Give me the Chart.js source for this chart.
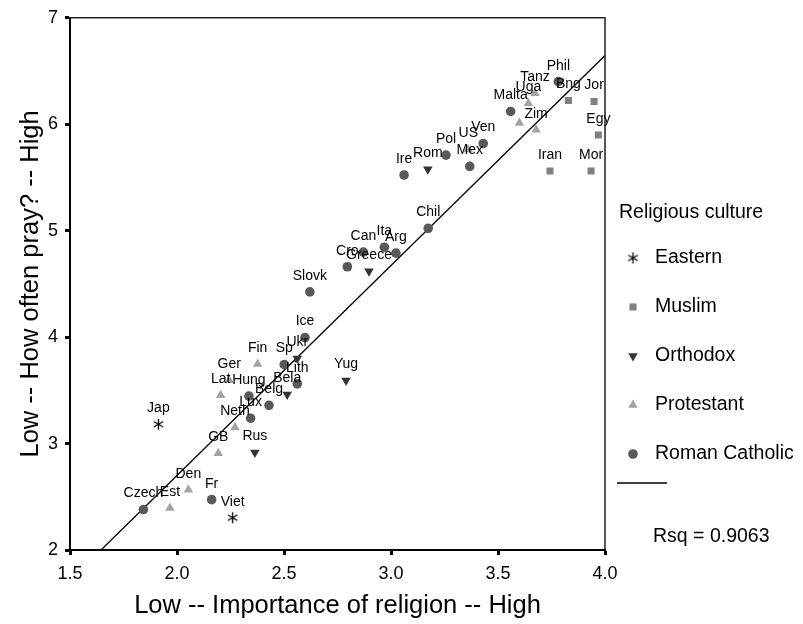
<!DOCTYPE html>
<html>
<head>
<meta charset="utf-8">
<style>
  html, body { margin: 0; padding: 0; background: #fff; }
</style>
<script src="https://cdn.jsdelivr.net/npm/chart.js@4.4.1/dist/chart.umd.min.js"></script>
</head>
<body>
<canvas id="chart" width="803" height="624"></canvas>
<script>
const FONT = "'Liberation Sans', Arial, Helvetica, sans-serif";

// Eastern
const easternNames = ["Jap", "Viet"];
const easternX = [1.913, 2.26];
const easternY = [3.182, 2.303];

// Muslim
const muslimNames = ["Bng", "Jor", "Egy", "Iran", "Mor"];
const muslimX = [3.829, 3.949, 3.969, 3.743, 3.935];
const muslimY = [6.223, 6.214, 5.899, 5.561, 5.561];

// Orthodox
const orthodoxNames = ["Rom", "Greece", "Ukr", "Bela", "Yug", "Rus"];
const orthodoxX = [3.172, 2.897, 2.562, 2.515, 2.79, 2.364];
const orthodoxY = [5.576, 4.618, 3.798, 3.462, 3.592, 2.917];

// Protestant
const protestantNames = ["Tanz", "Uga", "", "Zim", "US", "Fin", "Ger", "Lat", "Neth", "GB", "Den", "Est"];
const protestantX = [3.673, 3.642, 3.6, 3.678, 3.361, 2.377, 2.244, 2.204, 2.271, 2.193, 2.053, 1.967];
const protestantY = [6.291, 6.198, 6.011, 5.949, 5.762, 3.747, 3.595, 3.453, 3.15, 2.908, 2.566, 2.395];

// Roman Catholic
const catholicNames = ["Phil", "Malta", "Ven", "Mex", "Pol", "Ire", "Chil", "Arg", "Ita", "Can",
  "Cro", "Slovk", "Ice", "Sp", "Lith", "Belg", "Hung", "Lux", "Fr", "Czech"];
const catholicX = [3.782, 3.559, 3.431, 3.368, 3.257, 3.061, 3.174, 3.023, 2.969, 2.871,
  2.796, 2.621, 2.598, 2.501, 2.562, 2.43, 2.336, 2.344, 2.162, 1.843];
const catholicY = [6.4, 6.12, 5.818, 5.604, 5.71, 5.523, 5.022, 4.789, 4.845, 4.799,
  4.661, 4.425, 3.996, 3.742, 3.561, 3.359, 3.446, 3.238, 2.473, 2.38];

// fit line end points
const fitX = [1.645, 4.0];
const fitY = [2.0, 6.646];
const rsqText = "Rsq = 0.9063";

const toPoints = (xs, ys) => xs.map((x, i) => ({ x: x, y: ys[i] }));

// asterisk marker for the Eastern group
const makeStar = () => {
  const c = document.createElement("canvas");
  c.width = 13;
  c.height = 13;
  const g = c.getContext("2d");
  g.strokeStyle = "#000";
  g.lineWidth = 1.3;
  g.beginPath();
  for (let a = 90; a < 270; a += 60) {
    const r = (a * Math.PI) / 180;
    g.moveTo(6.5 + Math.cos(r) * 5.5, 6.5 - Math.sin(r) * 5.5);
    g.lineTo(6.5 - Math.cos(r) * 5.5, 6.5 + Math.sin(r) * 5.5);
  }
  g.stroke();
  return c;
};
const star = makeStar();

const datasets = [
  { label: "Eastern", names: easternNames, data: toPoints(easternX, easternY),
    pointStyle: star, pointRadius: 6, backgroundColor: "#000", borderColor: "#000", borderWidth: 0 },
  { label: "Muslim", names: muslimNames, data: toPoints(muslimX, muslimY),
    pointStyle: "rect", pointRadius: 5, backgroundColor: "#808080", borderWidth: 0 },
  { label: "Orthodox", names: orthodoxNames, data: toPoints(orthodoxX, orthodoxY),
    pointStyle: "triangle", rotation: 180, pointRadius: 5.5, backgroundColor: "#333333", borderWidth: 0 },
  { label: "Protestant", names: protestantNames, data: toPoints(protestantX, protestantY),
    pointStyle: "triangle", pointRadius: 5.5, backgroundColor: "#a3a3a3", borderWidth: 0 },
  { label: "Roman Catholic", names: catholicNames, data: toPoints(catholicX, catholicY),
    pointStyle: "circle", pointRadius: 4.8, backgroundColor: "#595959", borderWidth: 0 },
  { label: "fit", data: toPoints(fitX, fitY), showLine: true, pointRadius: 0,
    borderColor: "#000", borderWidth: 1.3, fill: false }
];

const pointLabels = {
  id: "pointLabels",
  afterDatasetsDraw(chart) {
    const ctx = chart.ctx;
    ctx.save();
    ctx.font = "14px " + FONT;
    ctx.fillStyle = "#000";
    ctx.textAlign = "center";
    ctx.textBaseline = "middle";
    chart.data.datasets.forEach((ds, i) => {
      if (!ds.names) return;
      chart.getDatasetMeta(i).data.forEach((pt, j) => {
        if (ds.names[j]) ctx.fillText(ds.names[j], pt.x, pt.y - 16);
      });
    });
    ctx.restore();
  }
};

// top and right edges of the frame
const frame = {
  id: "frame",
  afterDraw(chart) {
    const a = chart.chartArea;
    const ctx = chart.ctx;
    ctx.save();
    ctx.strokeStyle = "#222";
    ctx.lineWidth = 1.5;
    ctx.beginPath();
    ctx.moveTo(a.left, a.top);
    ctx.lineTo(a.right, a.top);
    ctx.lineTo(a.right, a.bottom);
    ctx.stroke();
    ctx.restore();
  }
};

const sideLegend = {
  id: "sideLegend",
  afterDraw(chart) {
    const ctx = chart.ctx;
    ctx.save();
    ctx.font = "19.5px " + FONT;
    ctx.fillStyle = "#000";
    ctx.textBaseline = "middle";
    ctx.textAlign = "left";
    ctx.fillText("Religious culture", 619, 213);
    let y = 258;
    chart.data.datasets.forEach((ds) => {
      if (!ds.names) return;
      ctx.save();
      ctx.fillStyle = ds.backgroundColor;
      ctx.strokeStyle = ds.backgroundColor;
      Chart.helpers.drawPoint(ctx, {
        pointStyle: ds.pointStyle,
        radius: ds.pointRadius,
        rotation: ds.rotation || 0,
        borderWidth: 0
      }, 633, y);
      ctx.restore();
      ctx.fillText(ds.label, 655, y);
      y += 49;
    });
    ctx.strokeStyle = "#000";
    ctx.lineWidth = 1.3;
    ctx.beginPath();
    ctx.moveTo(617, 483);
    ctx.lineTo(667, 483);
    ctx.stroke();
    ctx.fillText(rsqText, 653, 537);
    ctx.restore();
  }
};

new Chart(document.getElementById("chart"), {
  type: "scatter",
  data: { datasets: datasets },
  options: {
    responsive: false,
    animation: false,
    layout: { padding: { top: 14, right: 198, left: 0, bottom: 0 } },
    plugins: {
      legend: { display: false },
      tooltip: { enabled: false }
    },
    scales: {
      x: {
        type: "linear",
        min: 1.5,
        max: 4.0,
        ticks: {
          stepSize: 0.5,
          callback: (v) => v.toFixed(1),
          font: { size: 18, family: FONT },
          color: "#000",
          padding: 8,
          maxRotation: 0
        },
        grid: { drawOnChartArea: false, tickLength: 5, tickWidth: 3, tickColor: "#000" },
        border: { display: true, color: "#000", width: 2 },
        title: {
          display: true,
          text: "Low -- Importance of religion -- High",
          font: { size: 25.5, family: FONT },
          color: "#000",
          padding: { top: 0, bottom: 3 }
        },
        afterFit: (s) => { s.height = 74; }
      },
      y: {
        type: "linear",
        min: 2,
        max: 7,
        ticks: {
          stepSize: 1,
          font: { size: 18, family: FONT },
          color: "#000",
          padding: 7
        },
        grid: { drawOnChartArea: false, tickLength: 5, tickWidth: 3, tickColor: "#000" },
        border: { display: true, color: "#000", width: 2 },
        title: {
          display: true,
          text: "Low -- How often pray? -- High",
          font: { size: 25.5, family: FONT },
          color: "#000",
          padding: { top: 16, bottom: 0 }
        },
        afterFit: (s) => { s.width = 70; }
      }
    }
  },
  plugins: [pointLabels, frame, sideLegend]
});
</script>
</body>
</html>
